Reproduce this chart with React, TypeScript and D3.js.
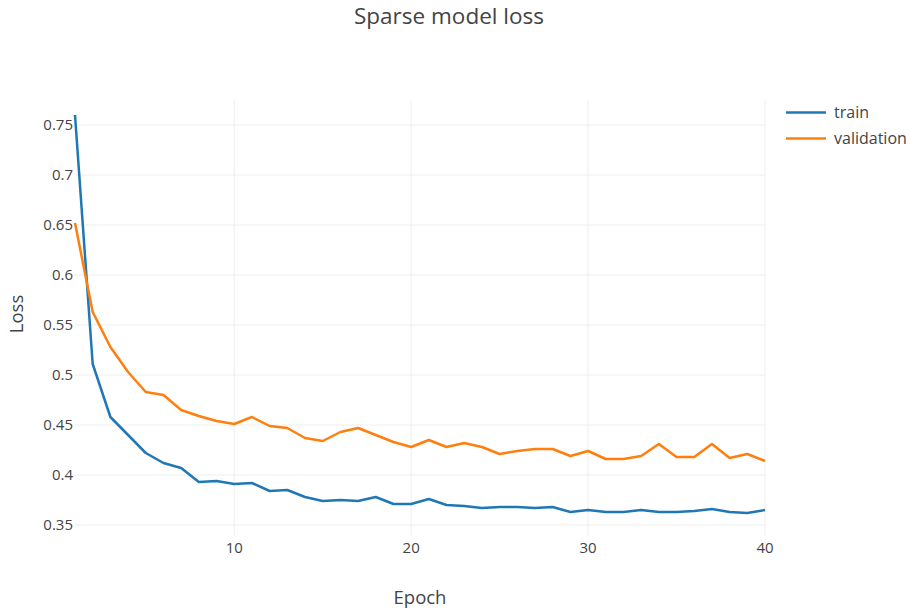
import React from "react";
import * as d3 from "d3";

const epochs: number[] = Array.from({ length: 40 }, (_, i) => i + 1);

const trainLoss: number[] = [
  0.76, 0.511, 0.458, 0.44, 0.422, 0.412, 0.407, 0.393, 0.394, 0.391,
  0.392, 0.384, 0.385, 0.378, 0.374, 0.375, 0.374, 0.378, 0.371, 0.371,
  0.376, 0.37, 0.369, 0.367, 0.368, 0.368, 0.367, 0.368, 0.363, 0.365,
  0.363, 0.363, 0.365, 0.363, 0.363, 0.364, 0.366, 0.363, 0.362, 0.365,
];

const valLoss: number[] = [
  0.652, 0.563, 0.528, 0.503, 0.483, 0.48, 0.465, 0.459, 0.454, 0.451,
  0.458, 0.449, 0.447, 0.437, 0.434, 0.443, 0.447, 0.44, 0.433, 0.428,
  0.435, 0.428, 0.432, 0.428, 0.421, 0.424, 0.426, 0.426, 0.419, 0.424,
  0.416, 0.416, 0.419, 0.431, 0.418, 0.418, 0.431, 0.417, 0.421, 0.414,
];

const xTicks: number[] = [10, 20, 30, 40];
const yTicks: number[] = [0.35, 0.4, 0.45, 0.5, 0.55, 0.6, 0.65, 0.7, 0.75];
const seriesNames: string[] = ["train", "validation"];
const seriesColors: string[] = ["#1f77b4", "#ff7f0e"];

const W = 911;
const H = 616;
const plotL = 75;
const plotR = 765;
const plotT = 100;
const plotB = 536;
const FONT = "'Open Sans', 'Noto Sans', sans-serif";
const TEXT = "#444";

export default function App() {
  const x = d3.scaleLinear().domain([1, 40]).range([plotL, plotR]);
  const y = d3.scaleLinear().domain([0.339, 0.775]).range([plotB, plotT]);
  const line = d3
    .line<number>()
    .x((_, i) => x(epochs[i]))
    .y((d) => y(d));
  const series = [trainLoss, valLoss];

  return (
    <svg
      width={W}
      height={H}
      style={{ position: "absolute", left: 0, top: 0, background: "#fff" }}
      fontFamily={FONT}
    >
      <rect x={0} y={0} width={W} height={H} fill="#fff" />
      <text x={449} y={24} textAnchor="middle" fontSize={22.5} fill={TEXT}>
        Sparse model loss
      </text>
      {/* grid */}
      {yTicks.map((t) => (
        <line key={"gy" + t} x1={plotL} x2={plotR} y1={y(t)} y2={y(t)} stroke="#eee" strokeWidth={1} />
      ))}
      {xTicks.map((t) => (
        <line key={"gx" + t} x1={x(t)} x2={x(t)} y1={plotT} y2={plotB} stroke="#eee" strokeWidth={1} />
      ))}
      {/* tick labels */}
      {yTicks.map((t) => (
        <text key={"ty" + t} x={plotL - 2} y={y(t)} dy="0.35em" textAnchor="end" fontSize={15} fill={TEXT}>
          {d3.format("")(+t.toFixed(2))}
        </text>
      ))}
      {xTicks.map((t) => (
        <text key={"tx" + t} x={x(t)} y={553} textAnchor="middle" fontSize={15} fill={TEXT}>
          {t}
        </text>
      ))}
      {/* axis titles */}
      <text x={420} y={604} textAnchor="middle" fontSize={18.5} fill={TEXT}>
        Epoch
      </text>
      <text
        transform={`translate(23,314) rotate(-90)`}
        textAnchor="middle"
        fontSize={18.5}
        fill={TEXT}
      >
        Loss
      </text>
      {/* lines */}
      <g>
        {series.map((s, i) => (
          <path key={"s" + i} d={line(s) || ""} fill="none" stroke={seriesColors[i]} strokeWidth={2.5} strokeLinejoin="round" />
        ))}
      </g>
      {/* legend */}
      {seriesNames.map((n, i) => (
        <g key={"lg" + n} transform={`translate(786,${112.5 + i * 26})`}>
          <line x1={0} x2={40} y1={0} y2={0} stroke={seriesColors[i]} strokeWidth={2.5} />
          <text x={48} y={0} dy="0.35em" fontSize={16} fill={TEXT}>
            {n}
          </text>
        </g>
      ))}
    </svg>
  );
}
